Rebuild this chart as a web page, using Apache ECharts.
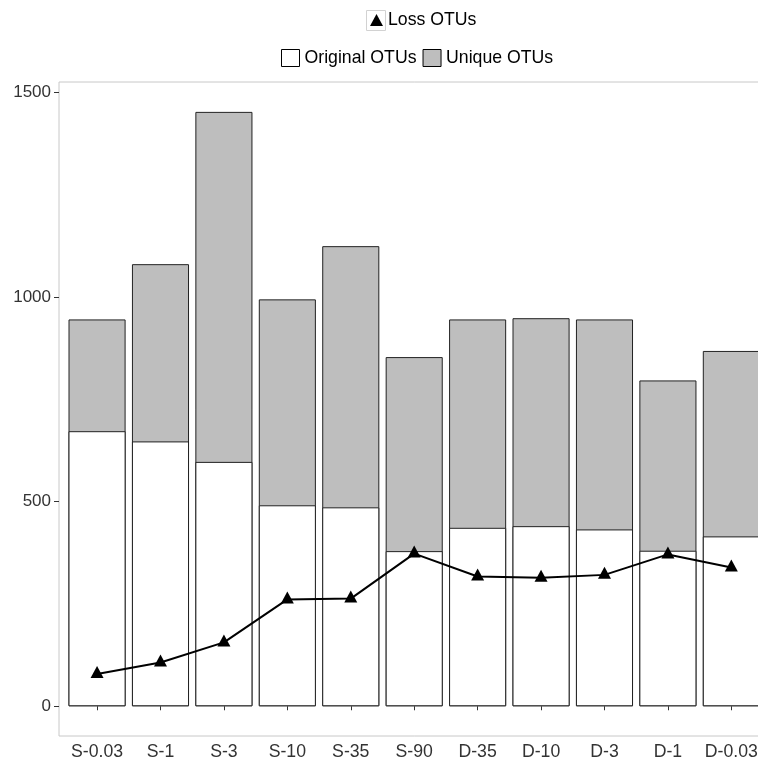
<!DOCTYPE html>
<html>
<head>
<meta charset="utf-8">
<title>OTUs</title>
<script src="https://cdn.jsdelivr.net/npm/echarts@6/dist/echarts.min.js"></script>
<style>
  html, body { margin: 0; padding: 0; background: #fff; overflow: hidden; }
  #chart { width: 790px; height: 760px; }
</style>
</head>
<body>
<div id="chart"></div>
<script>
// Sample groups along the x axis
const categories = ['S-0.03', 'S-1', 'S-3', 'S-10', 'S-35', 'S-90', 'D-35', 'D-10', 'D-3', 'D-1', 'D-0.03'];
// OTU counts per sample
const originalOTUs = [672, 647, 597, 491, 486, 379, 436, 440, 432, 380, 415];
const uniqueOTUs   = [273, 433, 855, 503, 638, 474, 509, 508, 513, 416, 453];
const lossOTUs     = [79, 107, 156, 261, 263, 373, 317, 314, 321, 371, 339];
// Y axis tick marks
const yTicks = [0, 500, 1000, 1500];

const positions = categories.map((_, i) => i + 1);
const toPoints = arr => arr.map((v, i) => [positions[i], v]);
// Unique OTUs sit on top of the original ones: the grey bar spans the total,
// the white bar covers its lower (original) part.
const totalOTUs = originalOTUs.map((v, i) => v + uniqueOTUs[i]);

const FONT = '"Liberation Sans", Arial, sans-serif';
const chart = echarts.init(document.getElementById('chart'), null, { renderer: 'canvas' });

chart.setOption({
  animation: false,
  backgroundColor: '#fff',
  textStyle: { fontFamily: FONT },
  grid: {
    left: 59, top: 82, right: 20.6, bottom: 24,
    show: true, borderColor: '#C8C8C8', borderWidth: 1,
    outerBoundsMode: 'none'
  },
  legend: [
    {
      data: [{ name: 'Loss OTUs', icon: 'triangle', itemStyle: { color: '#000' } }],
      left: 370, top: 11, padding: 0,
      itemWidth: 13, itemHeight: 12,
      selectedMode: false,
      textStyle: { fontSize: 17.7, color: '#000', fontFamily: FONT }
    },
    {
      data: [
        { name: 'Original OTUs', icon: 'rect', itemStyle: { color: '#fff', borderColor: '#000', borderWidth: 1 } },
        { name: 'Unique OTUs', icon: 'rect', itemStyle: { color: '#BEBEBE', borderColor: '#000', borderWidth: 1 } }
      ],
      left: 281, top: 49, padding: 0,
      itemWidth: 18, itemHeight: 17, itemGap: 6,
      selectedMode: false,
      textStyle: { fontSize: 17.7, color: '#000', fontFamily: FONT }
    }
  ],
  graphic: [{
    type: 'rect', z: -1,
    shape: { x: 366.5, y: 10.5, width: 19, height: 20 },
    style: { fill: '#fff', stroke: '#D2D2D2', lineWidth: 1 }
  }],
  xAxis: {
    type: 'value', min: 0.4, max: 11.6,
    splitLine: { show: false },
    axisLine: { show: false },
    axisTick: { show: true, customValues: positions, length: 4, lineStyle: { color: '#333' } },
    axisLabel: {
      customValues: positions,
      formatter: v => categories[Math.round(v) - 1],
      fontSize: 17.7, color: '#333', margin: 7, fontFamily: FONT
    }
  },
  yAxis: {
    type: 'value', min: -72.6, max: 1525,
    splitLine: { show: false },
    axisLine: { show: false },
    axisTick: { show: true, customValues: yTicks, length: 5, lineStyle: { color: '#333' } },
    axisLabel: {
      customValues: yTicks,
      formatter: v => String(v),
      fontSize: 17, color: '#333', margin: 8, fontFamily: FONT
    }
  },
  series: [
    {
      name: 'Unique OTUs', type: 'bar', barWidth: '90%', barGap: '-100%',
      data: toPoints(totalOTUs),
      itemStyle: { color: '#BEBEBE', borderColor: '#222', borderWidth: 1 }
    },
    {
      name: 'Original OTUs', type: 'bar', barWidth: '90%', barGap: '-100%',
      data: toPoints(originalOTUs),
      itemStyle: { color: '#fff', borderColor: '#222', borderWidth: 1 }
    },
    {
      name: 'Loss OTUs', type: 'line', z: 5,
      data: toPoints(lossOTUs),
      symbol: 'triangle', symbolSize: [13, 12], symbolOffset: [0, -2],
      itemStyle: { color: '#000' },
      lineStyle: { color: '#000', width: 2 }
    }
  ]
});
</script>
</body>
</html>
